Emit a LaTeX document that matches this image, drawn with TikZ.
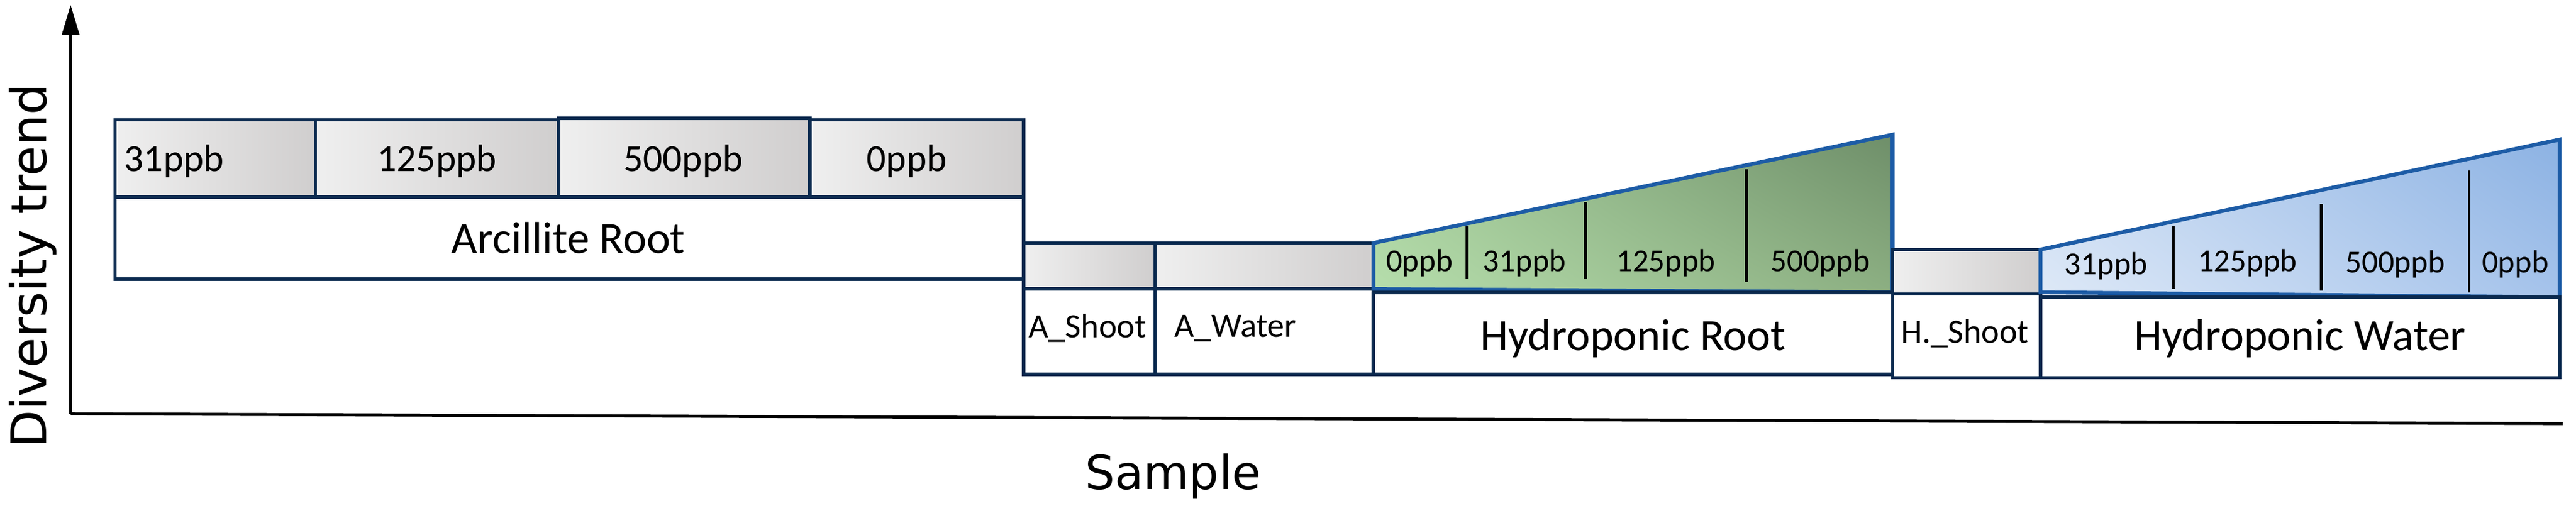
\documentclass[tikz,border=0pt]{standalone}
\usepackage{fontspec}
\setmainfont{Carlito}
\newfontfamily\axf{DejaVu Sans}
\usetikzlibrary{arrows.meta,shadings}
\definecolor{navy}{HTML}{0B2A4F}
\definecolor{bl}{HTML}{1D5CA6}
\definecolor{gL}{HTML}{EFEFEF}
\definecolor{gD}{HTML}{D0CECE}
\definecolor{grLL}{HTML}{B6DEAC}
\definecolor{grUR}{HTML}{6E8E69}
\definecolor{grLR}{HTML}{8CAF82}
\definecolor{grUL}{HTML}{A5CD9B}
\definecolor{buLL}{HTML}{DEE9F7}
\definecolor{buUR}{HTML}{8CB2E3}
\definecolor{buLR}{HTML}{A5C3EB}
\definecolor{buUL}{HTML}{C8DAF2}
\begin{document}
\begin{tikzpicture}[x=0.02706cm,y=-0.02706cm,
 gbox/.style={draw=navy,line width=1.6pt,left color=gL,right color=gD},
 wbox/.style={draw=navy,line width=1.6pt,fill=white},
 sep/.style={line width=1.3pt,black},
 ppb/.style={font=\fontsize{18}{18}\selectfont},
 sppb/.style={font=\fontsize{15}{15}\selectfont},
 lab/.style={font=\fontsize{21}{21}\selectfont},
 slab/.style={font=\fontsize{16}{16}\selectfont}]
\useasboundingbox (0,0) rectangle (1568,308);
% axes
\coordinate (o) at (43,252);
\coordinate (ytop) at (43,3);
\coordinate (xend) at (1560,258);
\draw[line width=1.4pt,-{Triangle[length=14pt,width=8pt]}] (o) -- (ytop);
\draw[line width=1.4pt] (o) -- (xend);
\node[rotate=90,font=\axf\fontsize{23}{23}\selectfont] (yl) at (20,162) {Diversity trend};
\node[font=\axf\fontsize{22}{22}\selectfont] (xl) at (714,290) {Sample};
% Arcillite
\draw[wbox] (70,120) rectangle (623,170);
\node[lab] (arl) at (346,145) {Arcillite Root};
\draw[gbox] (70,73) rectangle (192,120); \node[ppb] (a1) at (106,98) {31ppb};
\draw[gbox] (192,73) rectangle (340,120); \node[ppb] (a2) at (266,98) {125ppb};
\draw[gbox] (340,72) rectangle (493,120); \node[ppb] (a3) at (416,98) {500ppb};
\draw[gbox] (493,73) rectangle (623,120); \node[ppb] (a4) at (552,98) {0ppb};
% A shoot / water
\draw[gbox] (623,148) rectangle (703,176);
\draw[wbox] (623,176) rectangle (703,228); \node[slab] (as) at (662,200) {A\_Shoot};
\draw[gbox] (703,148) rectangle (836,176);
\draw[wbox] (703,176) rectangle (836,228); \node[slab] (aw) at (752,200) {A\_Water};
% Hydroponic root
\shade[lower left=grLL,upper right=grUR,lower right=grLR,upper left=grUL]
  (836,148) -- (1152,82) -- (1152,178) -- (836,176) -- cycle;
\draw[draw=bl,line width=1.8pt] (836,148) -- (1152,82) -- (1152,178) -- (836,176) -- cycle;
\draw[sep] (893,170) -- (893,138);
\draw[sep] (965,170) -- (965,123);
\draw[sep] (1063,172) -- (1063,103);
\node[sppb] (h0) at (864,160) {0ppb};
\node[sppb] (h1) at (928,160) {31ppb};
\node[sppb] (h2) at (1014,160) {125ppb};
\node[sppb] (h3) at (1108,160) {500ppb};
\draw[wbox] (836,178) rectangle (1152,228); \node[lab] (hr) at (994,206) {Hydroponic Root};
% H shoot
\draw[gbox] (1152,152) rectangle (1242,179);
\draw[wbox] (1152,179) rectangle (1242,230); \node[slab] (hs) at (1196,203) {H.\_Shoot};
% Hydroponic water
\shade[lower left=buLL,upper right=buUR,lower right=buLR,upper left=buUL]
  (1242,152) -- (1558,85) -- (1558,181) -- (1242,178) -- cycle;
\draw[draw=bl,line width=1.8pt] (1242,152) -- (1558,85) -- (1558,181) -- (1242,178) -- cycle;
\draw[sep] (1323,176) -- (1323,138);
\draw[sep] (1413,177) -- (1413,124);
\draw[sep] (1503,178) -- (1503,104);
\node[sppb] (w1) at (1282,162) {31ppb};
\node[sppb] (w2) at (1368,160) {125ppb};
\node[sppb] (w3) at (1458,161) {500ppb};
\node[sppb] (w4) at (1531,161) {0ppb};
\draw[wbox] (1242,181) rectangle (1558,230); \node[lab] (hw) at (1400,206) {Hydroponic Water};
\end{tikzpicture}
\end{document}
